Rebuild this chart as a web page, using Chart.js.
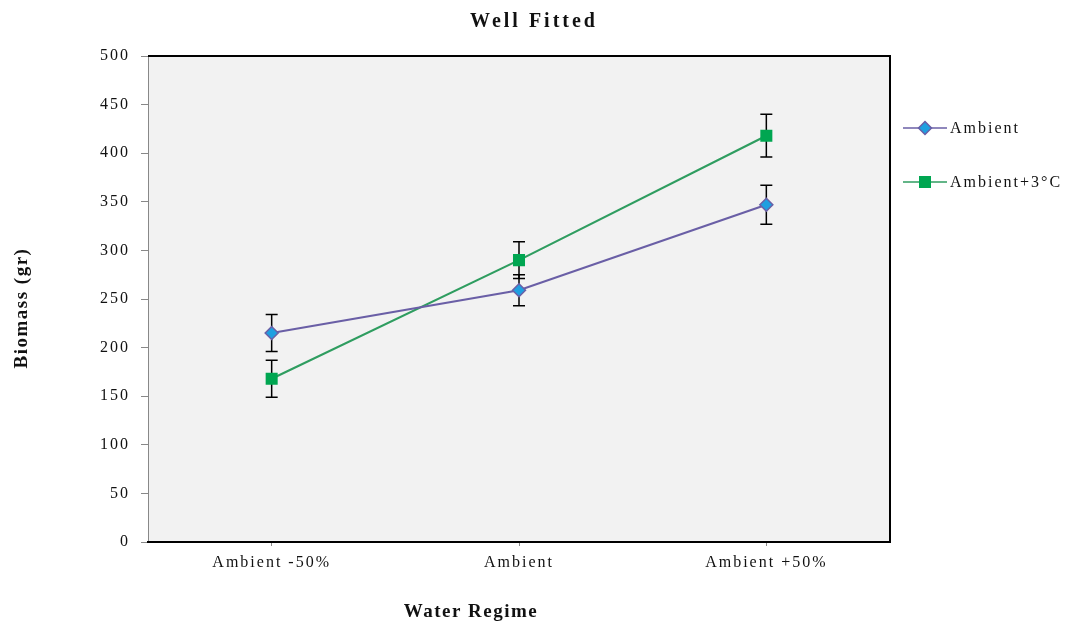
<!DOCTYPE html>
<html>
<head>
<meta charset="utf-8">
<script src="https://cdn.jsdelivr.net/npm/chart.js@4/dist/chart.umd.min.js"></script>
<style>
  html, body { margin: 0; padding: 0; background: #ffffff; }
  #wrap { width: 1065px; height: 624px; position: relative; }
</style>
</head>
<body>
<div id="wrap"><canvas id="c" width="1065" height="624"></canvas></div>
<script>
// Water regime treatments on the x axis
const categories = ['Ambient -50%', 'Ambient', 'Ambient +50%'];
// Mean biomass (gr) per treatment
const ambientValues = [215, 259, 347];
const warmedValues = [168, 290, 418];
// Error bar half-widths (gr)
const ambientErrors = [19, 16, 20];
const warmedErrors = [19, 19, 22];
// Y axis ticks
const yTicks = [0, 50, 100, 150, 200, 250, 300, 350, 400, 450, 500];

const seriesNames = ['Ambient', 'Ambient+3°C'];
const FONT = '"Liberation Serif", "Times New Roman", serif';
const AMB_LINE = '#6a5fa6';
const AMB_FILL = '#1f9fe0';
const WRM_LINE = '#2f9d60';
const WRM_FILL = '#00a651';
const TICK_SPACING = '2px';

// Wide letter spacing for all tick text
const spacingPlugin = {
  id: 'spacing',
  beforeUpdate(chart) { chart.ctx.letterSpacing = TICK_SPACING; },
  beforeLayout(chart) { chart.ctx.letterSpacing = TICK_SPACING; },
  beforeDraw(chart) { chart.ctx.letterSpacing = TICK_SPACING; }
};

// Plot background and frame
const framePlugin = {
  id: 'frame',
  beforeDraw(chart) {
    const { ctx, chartArea: a } = chart;
    ctx.save();
    ctx.fillStyle = '#f2f2f2';
    ctx.fillRect(a.left, a.top, a.right - a.left, a.bottom - a.top);
    ctx.restore();
  },
  afterDraw(chart) {
    const { ctx, chartArea: a } = chart;
    ctx.save();
    ctx.strokeStyle = '#000';
    ctx.lineWidth = 2;
    ctx.beginPath();
    ctx.moveTo(a.left, a.top);
    ctx.lineTo(a.right, a.top);
    ctx.lineTo(a.right, a.bottom);
    ctx.lineTo(a.left, a.bottom);
    ctx.stroke();
    ctx.restore();
  }
};

// Vertical error bars with caps, drawn from the data through the scales
const errorBarPlugin = {
  id: 'errorBars',
  beforeDatasetsDraw(chart) {
    const { ctx } = chart;
    const x = chart.scales.x, y = chart.scales.y;
    const sets = [[ambientValues, ambientErrors], [warmedValues, warmedErrors]];
    ctx.save();
    ctx.strokeStyle = '#000';
    ctx.lineWidth = 1.5;
    sets.forEach(([vals, errs]) => {
      vals.forEach((v, i) => {
        const px = x.getPixelForValue(i);
        const top = y.getPixelForValue(v + errs[i]);
        const bot = y.getPixelForValue(v - errs[i]);
        ctx.beginPath();
        ctx.moveTo(px, top); ctx.lineTo(px, bot);
        ctx.moveTo(px - 6, top); ctx.lineTo(px + 6, top);
        ctx.moveTo(px - 6, bot); ctx.lineTo(px + 6, bot);
        ctx.stroke();
      });
    });
    ctx.restore();
  }
};

// Titles and the side legend
const textPlugin = {
  id: 'texts',
  afterDraw(chart) {
    const { ctx } = chart;
    ctx.save();
    ctx.fillStyle = '#111';
    ctx.textAlign = 'center';
    ctx.textBaseline = 'middle';
    ctx.font = 'bold 20px ' + FONT;
    ctx.letterSpacing = '3px';
    ctx.fillText('Well Fitted', 534, 22);
    ctx.font = 'bold 19px ' + FONT;
    ctx.letterSpacing = '1.5px';
    ctx.fillText('Water Regime', 471, 612);
    ctx.save();
    ctx.translate(22, 308);
    ctx.rotate(-Math.PI / 2);
    ctx.fillText('Biomass (gr)', 0, 0);
    ctx.restore();

    // legend entries
    const entries = [
      { y: 128, line: AMB_LINE, fill: AMB_FILL, style: 'rectRot', r: 6.5, bw: 1.5, name: seriesNames[0] },
      { y: 182, line: WRM_LINE, fill: WRM_FILL, style: 'rect', r: 8.5, bw: 0, name: seriesNames[1] }
    ];
    entries.forEach(e => {
      ctx.strokeStyle = e.line;
      ctx.lineWidth = 1.5;
      ctx.beginPath();
      ctx.moveTo(903, e.y); ctx.lineTo(947, e.y);
      ctx.stroke();
      ctx.fillStyle = e.fill;
      ctx.strokeStyle = e.line;
      Chart.helpers.drawPoint(ctx, { pointStyle: e.style, radius: e.r, borderWidth: e.bw }, 925, e.y);
      ctx.fillStyle = '#111';
      ctx.font = '16px ' + FONT;
      ctx.letterSpacing = '2px';
      ctx.textAlign = 'left';
      ctx.fillText(e.name, 950, e.y + 1);
    });
    ctx.restore();
  }
};

new Chart(document.getElementById('c'), {
  type: 'line',
  data: {
    labels: categories,
    datasets: [
      {
        label: seriesNames[0], data: ambientValues,
        borderColor: AMB_LINE, borderWidth: 2.2,
        pointStyle: 'rectRot', pointRadius: 6.5, pointBackgroundColor: AMB_FILL,
        pointBorderColor: AMB_LINE, pointBorderWidth: 1.5, tension: 0
      },
      {
        label: seriesNames[1], data: warmedValues,
        borderColor: WRM_LINE, borderWidth: 2.2,
        pointStyle: 'rect', pointRadius: 8.5, pointBackgroundColor: WRM_FILL,
        pointBorderColor: WRM_FILL, pointBorderWidth: 0, tension: 0
      }
    ]
  },
  options: {
    responsive: false,
    animation: false,
    devicePixelRatio: 1,
    layout: { padding: { left: 0, right: 175, top: 56, bottom: 0 } },
    plugins: { legend: { display: false }, tooltip: { enabled: false }, title: { display: false } },
    scales: {
      x: {
        offset: true,
        grid: { display: true, drawOnChartArea: false, tickLength: 4, color: '#888', offset: false },
        border: { display: true, color: '#000', width: 2 },
        ticks: { font: { family: FONT, size: 16 }, color: '#111', padding: 7, maxRotation: 0 },
        afterFit(s) { s.height = 82; }
      },
      y: {
        min: 0, max: 500,
        afterBuildTicks(s) { s.ticks = yTicks.map(v => ({ value: v })); },
        grid: { display: true, drawOnChartArea: false, tickLength: 7, color: '#888' },
        border: { display: true, color: '#888', width: 1 },
        ticks: { font: { family: FONT, size: 16 }, color: '#111', padding: 11 },
        afterFit(s) { s.width = 148; }
      }
    }
  },
  plugins: [spacingPlugin, framePlugin, errorBarPlugin, textPlugin]
});
</script>
</body>
</html>
